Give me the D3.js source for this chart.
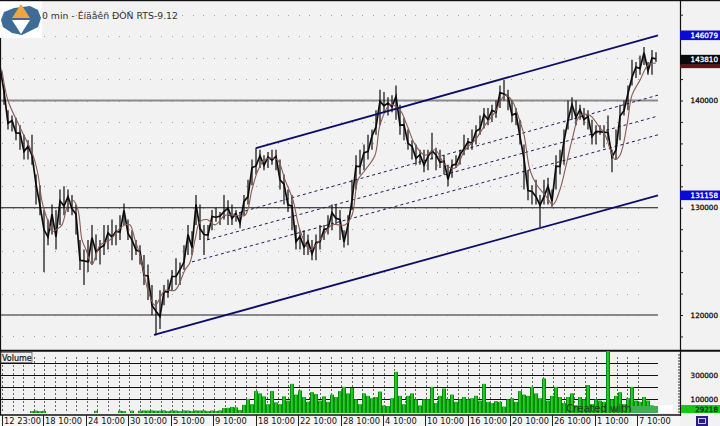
<!DOCTYPE html>
<html><head><meta charset="utf-8">
<script src="https://cdn.jsdelivr.net/npm/d3@7"></script>
<style>html,body{margin:0;padding:0;background:#f2f2f2}svg{display:block}text{font-family:"DejaVu Sans",sans-serif}</style>
</head><body><svg id="c" width="720" height="426"></svg>
<script>
// prices are in thousands of points, one high/low pair per plotted bar
const barHigh=[144,141.4,139.1,138.6,138.4,137.7,136.8,136.3,136.8,133.1,132.1,129.8,128.9,130.3,129.8,131.7,132,131.7,131.2,130.3,127,126.1,127,128.4,127.5,127,128.4,128.4,128.9,128.4,129.3,130.4,128.9,127.9,127,126.5,125.6,124.7,122.8,121.4,122.3,122.8,123.3,124.2,125.3,124.9,126.5,128.4,127.8,131.2,130.3,128.4,128.4,129.8,130,129.6,131.2,130.7,130.3,129.8,129.6,131.2,132.6,134.5,135.6,135.4,134.9,135.2,135.4,135.4,134.5,133.1,131.7,131.2,128.4,127.9,127.9,127.5,127,127.5,128.4,128.4,129.3,130.3,130.3,129.8,127.9,129.3,132.6,134.9,135.4,135.9,136.8,137.3,139.1,141,140.8,140.3,140.5,141.4,139.6,138.4,137.3,136.3,135.9,135.4,135.4,135.4,137,135.6,135.4,134.9,134,134.5,134.9,135.4,136.8,136.5,137.3,137.7,138.6,139.3,139.3,139.6,140,141.4,141.9,141,140,139.3,138.2,135.9,133.5,132.1,132.6,131.2,132.6,132.8,131.7,134.9,135.4,137.3,140,140.3,140,139.6,139.3,139.1,138.2,137.7,137.7,137.7,138.6,135.4,137.3,139.6,140,141.4,143.8,143.6,144.2,145,143.6,144.7,144.5];
const barLow=[142.8,139.6,137.3,137.1,136.3,135.4,134.5,134.5,134,130.3,129.3,124,126.5,127.5,126.1,128.4,129.3,129.6,129.3,127.5,124.2,122.8,124,124.7,125.1,124.7,125.6,126.1,126.5,126.5,127,128.4,127,125.1,125.6,124.7,122.8,121.4,120,118.1,118.7,120.9,121.6,122.3,122.8,122.8,124.2,125.6,125.6,128.4,127,125.6,127,127.9,128.7,128.4,128.9,128.4,128.4,128.7,128.1,129.3,130.3,132.1,133.1,133.7,133.5,133.7,134,133.5,131.7,130.3,129.6,127.9,126.1,126.1,125.6,125.6,125.1,125.1,126.1,127,127.5,127.9,128.4,127,126.3,126.5,129.8,131.7,133.1,133.5,134.5,135.4,136.8,137.7,138.9,138.6,138.9,138.2,136.8,136.3,135.4,134.5,134,134,133.3,133.5,134.5,133.5,133.7,133.1,132,132.8,133.7,134,134.9,135.4,135.4,135.9,136.8,137.4,137.7,138,138.4,139.3,140,139.1,138,137.7,135.9,131.7,130.7,130.3,130.3,128.2,130.3,130.3,130.1,131.7,133.1,134,137.3,138.2,137.7,138.2,137.7,137.3,135.9,135.9,136.8,135.6,136.3,133.3,134.5,136.3,138.6,139.1,141.4,142.1,142.4,143.3,142.4,142.4,143.6];
const maBars=[0.5,2,5,8.25,9.5,10.5,11.75,13,14.25,15.5,17,18.25,19.5,20.5,21.5,23,25,27.5,30,31.25,32.5,33.75,35,37,38.75,41.25,43.75,46.25,47.5,48.75,50,51.75,53.75,56.25,58.75,61.25,63,64.5,66.25,69.25,71.25,73.25,75,77.5,80,83,86.25,88,89.5,91.25,93.75,95,97.5,100,101.75,103.75,106.25,108.75,111.25,113.75,116.25,118.75,121.25,123.75,126.25,128,129.5,131,132.5,134.25,136.25,138.25,140,141.25,143,145,147.5,149.5,151.25,153.75,155,156.75,158,160,162,164];
const maValues=[142.8,140,137.5,134.9,133.1,130.6,129,127.8,128,128.4,130.3,130.7,129.8,127,126.1,124.7,126.5,127,128.1,128.4,128.4,127,125.6,122.3,120.9,122.3,122.3,124.2,124.9,127,128.7,128.9,128.4,129.3,129.3,129.3,131.7,133.5,134.5,134.5,132.6,130.7,127.9,126.1,127,128.4,128.4,129.3,132.6,133.5,134.9,137.7,139.6,139.1,137.7,135.9,134.9,135.4,134,133.7,135.4,136.3,137.7,138.9,140.5,140,138.6,136.8,133.5,132.1,131.2,130.3,131.7,133.5,136.3,138.6,138.6,137.7,136.8,134.5,134.9,137.7,140.5,141.9,143.3,143.5];
// volume in thousands of contracts
const volume=[0,0,0,0,0,0,0,0,4,6,2,5,0,0,0,0,0,0,0,0,0,0,0,0,5,0,0,0,0,0,6,3,0,6,0,5,8,7,8,6,6,8,3,8,7,2,8,7,3,8,7,8,3,7,4,8,28,30,38,34,12,55,105,60,170,150,125,60,170,75,60,125,90,230,140,175,120,80,160,145,90,125,80,140,120,170,205,150,195,100,60,150,130,110,120,165,50,45,110,330,130,60,130,150,100,50,100,100,205,70,130,190,100,140,80,100,120,100,110,130,90,230,80,70,85,80,40,100,110,80,170,140,130,205,150,110,275,90,130,205,120,70,120,150,50,120,100,220,60,100,90,80,504,100,130,160,60,110,205,90,80,120,90,50];
const timeTickBars=[0.5,10.75,21.5,32,42.75,53.25,64,74.5,85.25,95.75,106.25,117,127.5,138,148.75,159.25];
const timeTickLabels=["12 23:00","18 10:00","24 10:00","30 10:00","5 10:00","9 10:00","18 10:00","22 10:00","28 10:00","4 10:00","10 10:00","16 10:00","20 10:00","26 10:00","1 10:00","7 10:00"];
const priceLabels=[140,130,120];
const priceLevels=[140,130,120];
const priceMinorTicks=[148,146,144,142,140,138,136,134,132,130,128,126,124,122,120,118];
const volumeLevels=[400,300,200,100];
const volumeLabels=[300,100];
const lastTagValues=[146.079,143.81,131.158];
const lastVolume=29.218;
const channelBars=[[64,164.5],[38.5,164.5]];
const channelValues=[[135.57,146.079],[118.14,131.158]];
const midBars=[[55.5,164.5],[51.75,164.5],[48,164.5]];
const midValues=[[129.1,140.5],[127,138.55],[124.95,136.8]];
const title="0 min - Éíäåêñ ÐÒÑ RTS-9.12";

const svg=d3.select("#c");
const x=d3.scaleLinear().domain([0,170]).range([0,680]);
const y=d3.scaleLinear().domain([140,120]).range([100.5,315]);
const v=d3.scaleLinear().domain([0,100]).range([411.5,399.5]);
const ink="#0c0c0c";

svg.append("rect").attr("width",720).attr("height",426).attr("fill","#f2f2f2");

// dotted grid
const gridCols=d3.range(0,61).map(i=>0.5+i*2.65).filter(b=>b<163);
const dots=svg.append("g").attr("fill","#666");
priceMinorTicks.forEach(p=>{
  dots.selectAll(null).data(gridCols).join("rect")
    .attr("x",b=>Math.round(x(b))).attr("y",Math.round(y(p))).attr("width",1).attr("height",1).attr("opacity",.6);
});

// price levels
const levelStyle={140:["#8a8a8a",2],130:["#111",1.2],120:["#666",1.5]};
svg.append("g").selectAll("line").data(priceLevels).join("line")
  .attr("x1",0).attr("x2",x(164.5)).attr("y1",d=>y(d)).attr("y2",d=>y(d))
  .attr("stroke",d=>levelStyle[d][0]).attr("stroke-width",d=>levelStyle[d][1]);

// dashed mid channel lines
midBars.forEach((b,i)=>{
  svg.append("line").attr("x1",x(b[0])).attr("x2",x(b[1]))
    .attr("y1",y(midValues[i][0])).attr("y2",y(midValues[i][1]))
    .attr("stroke","#1c1c5c").attr("stroke-width",1).attr("stroke-dasharray","3,3");
});

// price trace: high-low wick for each bar, joined by a line swinging inside each bar's range
svg.append("g").selectAll("line").data(barHigh).join("line")
  .attr("x1",(d,i)=>x(i)).attr("x2",(d,i)=>x(i)).attr("y1",d=>y(d)).attr("y2",(d,i)=>y(barLow[i]))
  .attr("stroke",ink).attr("stroke-width",1.2);
svg.append("path").attr("d",d3.line().x((d,i)=>x(i)).y((d,i)=>y(i%2?barHigh[i]*.68+barLow[i]*.32:barHigh[i]*.32+barLow[i]*.68))(barHigh))
  .attr("fill","none").attr("stroke",ink).attr("stroke-width",1.7);

// moving average
svg.append("path").attr("d",d3.line().x((d,i)=>x(maBars[i])).y(d=>y(d)).curve(d3.curveCatmullRom)(maValues))
  .attr("fill","none").attr("stroke","#8a5a55").attr("stroke-width",1.1);

// channel
channelBars.forEach((b,i)=>{
  svg.append("line").attr("x1",x(b[0])).attr("x2",x(b[1]))
    .attr("y1",y(channelValues[i][0])).attr("y2",y(channelValues[i][1]))
    .attr("stroke","#0c0c6a").attr("stroke-width",1.8);
});

// logo
const logo=svg.append("g");
logo.append("rect").attr("width",42).attr("height",38).attr("fill","#fff");
logo.append("path").attr("d","M1,20 L4,12 L14,8 L30,6 L38,10 L41,18 L38,27 L22,35 L12,33 L3,27Z").attr("fill","#3f6c96");
logo.append("path").attr("d","M21,4 L30,18 L12,18Z").attr("fill","#f0a63c");
logo.append("path").attr("d","M12,20 L30,20 L21,34Z").attr("fill","#fff");
svg.append("text").attr("x",42).attr("y",19).attr("font-size",9.3).attr("fill","#333").text(title);

// frame
svg.append("rect").attr("width",720).attr("height",1.2).attr("fill","#111");
svg.append("line").attr("x1",.5).attr("x2",.5).attr("y1",38).attr("y2",415).attr("stroke","#111").attr("stroke-width",1.2);
svg.append("line").attr("x1",0).attr("x2",720).attr("y1",350.8).attr("y2",350.8).attr("stroke","#111").attr("stroke-width",2);

// volume pane
svg.append("g").selectAll("line").data(gridCols).join("line")
  .attr("x1",b=>Math.round(x(b))+.5).attr("x2",b=>Math.round(x(b))+.5).attr("y1",357).attr("y2",412)
  .attr("stroke","#444").attr("stroke-width",.8).attr("stroke-dasharray","2,2");
svg.append("g").selectAll("line").data(volumeLevels).join("line")
  .attr("x1",0).attr("x2",x(164.5)).attr("y1",d=>v(d)).attr("y2",d=>v(d))
  .attr("stroke","#111").attr("stroke-width",1.1);
const vols=volume.map((d,i)=>({d,i})).filter(o=>o.d>0);
svg.append("g").selectAll("rect").data(vols).join("rect")
  .attr("x",o=>x(o.i)-2).attr("width",4).attr("y",o=>v(o.d)).attr("height",o=>v(0)-v(o.d)+1.5).attr("fill","#0b8a10");
svg.append("g").selectAll("rect").data(vols).join("rect")
  .attr("x",o=>x(o.i)-1).attr("width",1.8).attr("y",o=>v(o.d)).attr("height",o=>v(0)-v(o.d)+1.5).attr("fill","#22d024");
const vb=svg.append("g");
vb.append("rect").attr("x",1).attr("y",352.5).attr("width",31).attr("height",10).attr("fill","#efefef").attr("stroke","#555").attr("stroke-width",.7);
vb.append("text").attr("x",2).attr("y",361).attr("font-size",8).attr("fill","#111").attr("stroke","#111").attr("stroke-width",.2).text("Volume");

// watermark
svg.append("rect").attr("x",630).attr("y",406).attr("width",28).attr("height",7).attr("fill","#3fae55");
svg.append("rect").attr("x",658).attr("y",405).attr("width",15).attr("height",8).attr("fill","#fff");
svg.append("text").attr("x",566).attr("y",412).attr("font-size",10.3).attr("fill","#1d3a1d").text("Created with");

// time axis
svg.append("rect").attr("x",0).attr("y",415).attr("width",680).attr("height",11).attr("fill","#f6f6f6");
svg.append("line").attr("x1",0).attr("x2",680).attr("y1",415).attr("y2",415).attr("stroke","#111").attr("stroke-width",1.3);
const xAxis=svg.append("g").attr("transform","translate(0,415)").call(
  d3.axisBottom(x).tickValues(timeTickBars).tickSize(11).tickFormat((d,i)=>timeTickLabels[i]));
xAxis.select(".domain").remove();
xAxis.selectAll("line").attr("stroke","#222").attr("stroke-width",1);
xAxis.selectAll("text").attr("text-anchor","start").attr("dy",0).attr("x",1.5).attr("y",9)
  .attr("font-size",8.3).attr("font-family","DejaVu Sans").attr("fill","#111");

// right axis
svg.append("line").attr("x1",680.5).attr("x2",680.5).attr("y1",0).attr("y2",416).attr("stroke","#111").attr("stroke-width",1.2);
const pAxis=svg.append("g").attr("transform","translate(680,0)").call(
  d3.axisRight(y).tickValues(priceMinorTicks).tickSize(3).tickFormat(""));
pAxis.select(".domain").remove();
pAxis.selectAll("line").attr("stroke","#222");
const labelAttrs=s=>s.attr("text-anchor","end").attr("font-size",7.2).attr("dominant-baseline","central")
  .attr("stroke-width",.3);
svg.append("g").selectAll("text").data(priceLabels).join("text").call(labelAttrs)
  .attr("x",718).attr("y",d=>y(d)).attr("fill","#111").attr("stroke","#111").text(d=>d3.format("d")(d*1000));
const tagColor=["#0a0ad2","#0a0a0a","#0a0ad2"];
svg.append("rect").attr("x",680).attr("y",y(143.81)+4.5).attr("width",40).attr("height",4).attr("fill","#6b0f14");
svg.append("g").selectAll("rect").data(lastTagValues).join("rect")
  .attr("x",680).attr("width",40).attr("y",d=>y(d)-4.8).attr("height",9.6).attr("fill",(d,i)=>tagColor[i]);
svg.append("g").selectAll("text").data(lastTagValues).join("text").call(labelAttrs)
  .attr("x",718).attr("y",d=>y(d)).attr("fill","#fff").attr("stroke","#fff").text(d=>d3.format("d")(d*1000));

const vAxis=svg.append("g").attr("transform","translate(680,0)").call(
  d3.axisLeft(v).tickValues(d3.range(0,500,25)).tickSize(2).tickFormat(""));
vAxis.select(".domain").remove();
vAxis.selectAll("line").attr("stroke","#333");
svg.append("g").selectAll("text").data(volumeLabels).join("text").call(labelAttrs)
  .attr("x",718).attr("y",d=>v(d)).attr("fill","#111").attr("stroke","#111").text(d=>d*1000);
svg.append("rect").attr("x",681).attr("y",405).attr("width",39).attr("height",8).attr("fill","#14c814");
svg.append("text").call(labelAttrs).attr("x",718).attr("y",409).attr("fill","#123").attr("stroke","#123").text(lastVolume*1000);

// corner button
svg.append("rect").attr("x",696).attr("y",416).attr("width",12).attr("height",10).attr("fill","#2a1a8c");
svg.append("rect").attr("x",698.5).attr("y",418.5).attr("width",7).attr("height",5).attr("fill","none").attr("stroke","#dde").attr("stroke-width",.9);
</script></body></html>
